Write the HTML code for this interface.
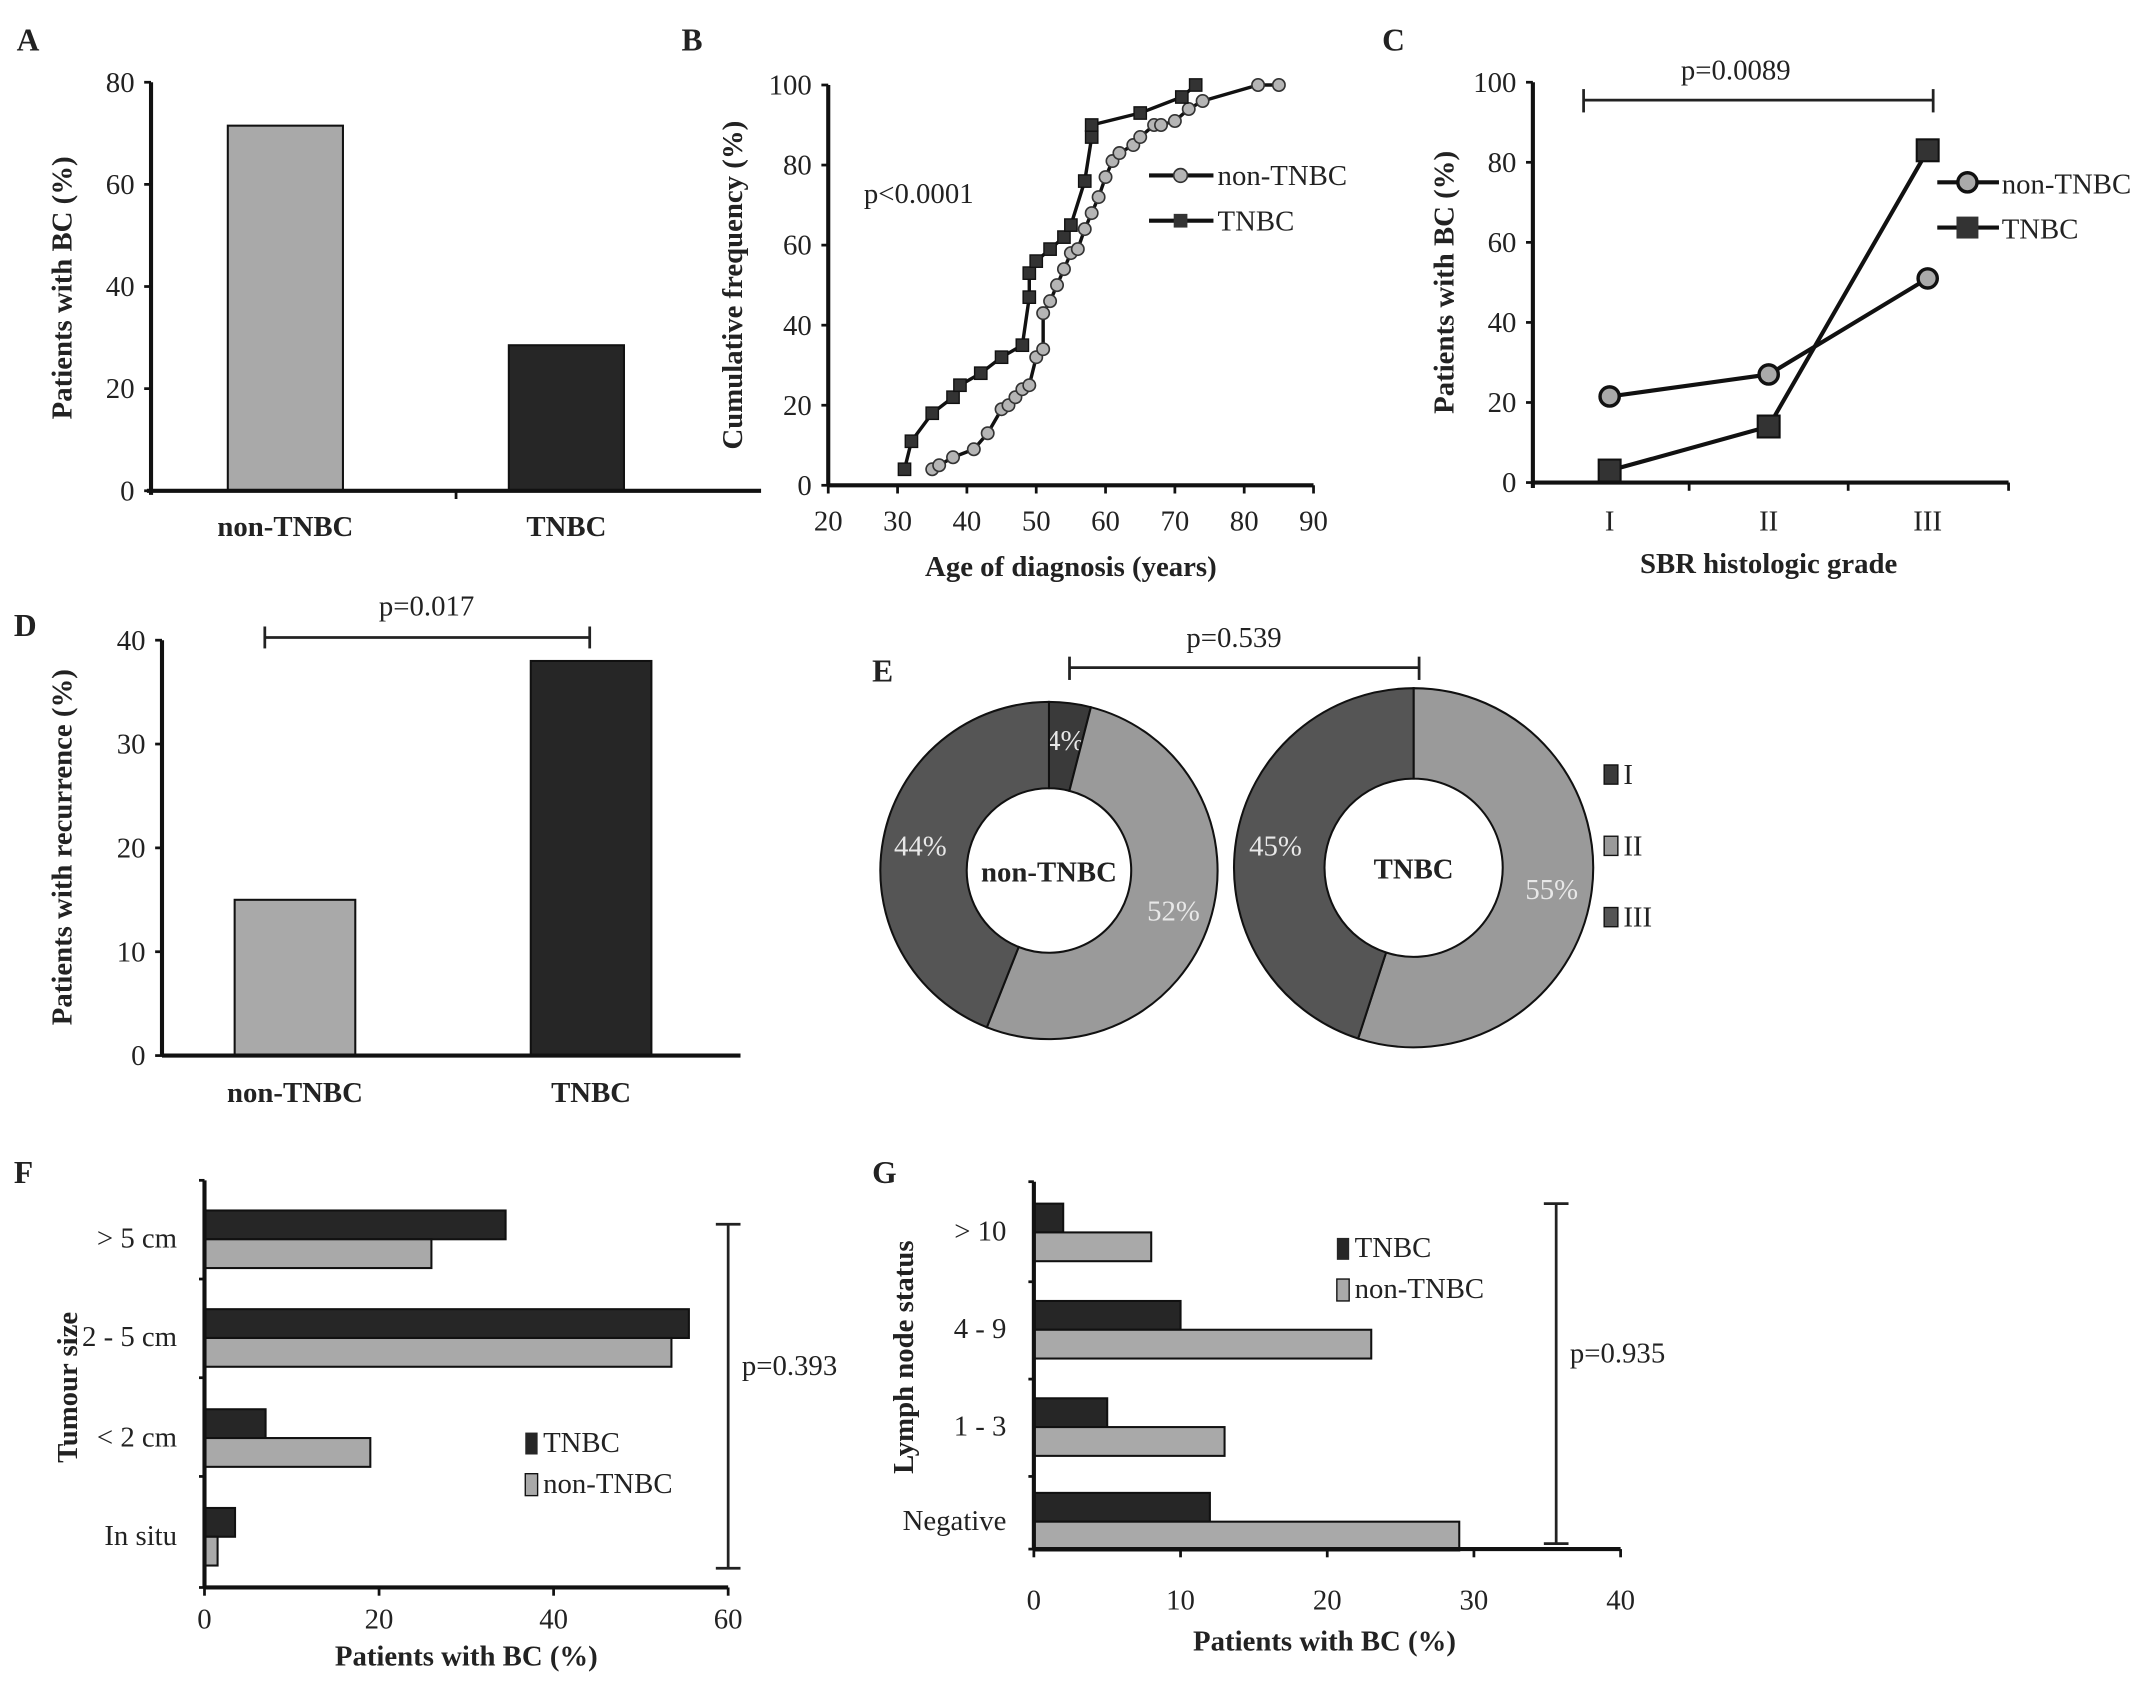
<!DOCTYPE html>
<html><head><meta charset="utf-8">
<style>
html,body{margin:0;padding:0;background:#fff;}
svg{display:block;}
text{font-family:"Liberation Serif",serif;fill:#222;}
.t{font-size:21px;}
.b{font-weight:bold;}
.pl{font-size:23px;font-weight:bold;}
</style></head>
<body>
<svg id="fig" width="2150" height="1704" viewBox="0 0 1568 1243" xmlns="http://www.w3.org/2000/svg">
<g id="root"></g>
</svg>
<script>
// ---- Panel A data
const aCats = ["non-TNBC", "TNBC"];
const aVals = [71.5, 28.5];
const aTicks = [0, 20, 40, 60, 80];
// ---- Panel B data
const bTnbcAge = [31,32,35,38,39,42,45,48,49,49,50,52,54,55,57,58,58,65,71,73];
const bTnbcPct = [4,11,18,22,25,28,32,35,47,53,56,59,62,65,76,87,90,93,97,100];
const bNonAge = [35,36,38,41,43,45,46,47,48,49,50,51,51,52,53,54,55,56,57,58,59,60,61,62,64,65,67,68,70,72,74,82,85];
const bNonPct = [4,5,7,9,13,19,20,22,24,25,32,34,43,46,50,54,58,59,64,68,72,77,81,83,85,87,90,90,91,94,96,100,100];
const bXTicks = [20,30,40,50,60,70,80,90];
const bYTicks = [0,20,40,60,80,100];
// ---- Panel C data
const cCats = ["I","II","III"];
const cNon = [21.5, 27, 51];
const cTnbc = [3, 14, 83];
const cTicks = [0,20,40,60,80,100];
// ---- Panel D data
const dCats = ["non-TNBC","TNBC"];
const dVals = [15, 38];
const dTicks = [0,10,20,30,40];
// ---- Panel E data
const eNon = [4, 52, 44];
const eTnbc = [0, 55, 45];
const eLegend = ["I","II","III"];
// ---- Panel F data
const fCats = ["> 5 cm","2 - 5 cm","< 2 cm","In situ"];
const fTnbc = [34.5, 55.5, 7, 3.5];
const fNon = [26, 53.5, 19, 1.5];
const fTicks = [0,20,40,60];
// ---- Panel G data
const gCats = ["> 10","4 - 9","1 - 3","Negative"];
const gTnbc = [2, 10, 5, 12];
const gNon = [8, 23, 13, 29];
const gTicks = [0,10,20,30,40];

const NS = "http://www.w3.org/2000/svg";
const root = document.getElementById("root");
function mk(tag, attrs, parent){
  const e = document.createElementNS(NS, tag);
  for (const k in attrs) e.setAttribute(k, attrs[k]);
  (parent||root).appendChild(e);
  return e;
}
function txt(x, y, s, cls, anchor, parent){
  const e = mk("text", {x:x, y:y, class:cls||"t", "text-anchor":anchor||"middle"}, parent);
  e.textContent = s;
  return e;
}
const DARK = "#262626", LIGHT = "#a9a9a9";

// ===== Panel letters
[["A",12,37],["B",497,37],["C",1008,37],["D",10,464],["E",636,497],["F",10,863],["G",636,863]].forEach(p=>{
  const e = txt(p[1], p[2], p[0], "pl", "start");
  
  
});

// ===== Panel A
(function(){
  const g = mk("g", {});
  
  
  const x0 = 110, y0 = 358, yTop = 60, xEnd = 555;
  const ys = v => y0 - (v/80)*(y0-yTop);
  aVals.forEach((v,i)=>{
    const cx = [208, 413][i];
    const r = mk("rect", {x:cx-42, y:ys(v), width:84, height:y0-ys(v), fill:i?DARK:LIGHT, stroke:"#111", "stroke-width":1.5}, g);
    
    
    const l = txt(cx, 391, aCats[i], "t b", "middle", g);
    
    
  });
  mk("line", {x1:x0, y1:yTop, x2:x0, y2:y0+3, stroke:"#111", "stroke-width":3}, g);
  mk("line", {x1:x0-3, y1:y0, x2:xEnd, y2:y0, stroke:"#111", "stroke-width":3}, g);
  mk("line", {x1:(x0+xEnd)/2, y1:y0, x2:(x0+xEnd)/2, y2:y0+6, stroke:"#111", "stroke-width":2}, g);
  aTicks.forEach(t=>{
    mk("line", {x1:x0-5, y1:ys(t), x2:x0, y2:ys(t), stroke:"#111", "stroke-width":2}, g);
    const l = txt(x0-12, ys(t)+7, String(t), "t", "end", g);
    
    
  });
  const yt = txt(0, 0, "Patients with BC (%)", "t b", "middle", g);
  yt.setAttribute("transform", "translate(52,210) rotate(-90)");
  
  
})();

// ===== Panel B
(function(){
  const g = mk("g", {});
  
  
  const x0 = 604, x1 = 958, y0 = 354, yTop = 62;
  const xs = v => x0 + (v-20)/70*(x1-x0);
  const ys = v => y0 - v/100*(y0-yTop);
  mk("line", {x1:x0, y1:yTop, x2:x0, y2:y0, stroke:"#111", "stroke-width":3}, g);
  mk("line", {x1:x0, y1:y0, x2:x1, y2:y0, stroke:"#111", "stroke-width":3}, g);
  bYTicks.forEach(t=>{
    mk("line", {x1:x0-5, y1:ys(t), x2:x0, y2:ys(t), stroke:"#111", "stroke-width":2}, g);
    const l = txt(x0-12, ys(t)+7, String(t), "t", "end", g);
    
    
  });
  bXTicks.forEach(t=>{
    mk("line", {x1:xs(t), y1:y0, x2:xs(t), y2:y0+6, stroke:"#111", "stroke-width":2}, g);
    const l = txt(xs(t), y0+33, String(t), "t", "middle", g);
    
    
  });
  const xt = txt(xs(55), 420, "Age of diagnosis (years)", "t b", "middle", g);
  
  
  const yt = txt(0, 0, "Cumulative frequency (%)", "t b", "middle", g);
  yt.setAttribute("transform", "translate(541,208) rotate(-90)");
  
  
  const pv = txt(630, 148, "p<0.0001", "t", "start", g);
  
  
  const pn = mk("polyline", {points:bNonAge.map((a,i)=>xs(a)+","+ys(bNonPct[i])).join(" "), fill:"none", stroke:"#111", "stroke-width":2.5, "stroke-linejoin":"round"}, g);
  
  
  const pt = mk("polyline", {points:bTnbcAge.map((a,i)=>xs(a)+","+ys(bTnbcPct[i])).join(" "), fill:"none", stroke:"#111", "stroke-width":2.5, "stroke-linejoin":"round"}, g);
  
  
  bNonAge.forEach((a,i)=>{
    const c = mk("circle", {cx:xs(a), cy:ys(bNonPct[i]), r:4.5, fill:"#b5b5b5", stroke:"#333", "stroke-width":1.2}, g);
    
    
  });
  bTnbcAge.forEach((a,i)=>{
    const c = mk("rect", {x:xs(a)-4.5, y:ys(bTnbcPct[i])-4.5, width:9, height:9, fill:"#333", stroke:"#111", "stroke-width":1}, g);
    
    
  });
  mk("line", {x1:838, y1:128, x2:885, y2:128, stroke:"#111", "stroke-width":3}, g);
  mk("circle", {cx:861, cy:128, r:5, fill:"#b5b5b5", stroke:"#333", "stroke-width":1.2}, g);
  const l1 = txt(888, 135, "non-TNBC", "t", "start", g);
  
  
  mk("line", {x1:838, y1:161, x2:885, y2:161, stroke:"#111", "stroke-width":3}, g);
  mk("rect", {x:856, y:156, width:10, height:10, fill:"#333"}, g);
  const l2 = txt(888, 168, "TNBC", "t", "start", g);
  
  
})();

// ===== Panel C
(function(){
  const g = mk("g", {});
  
  
  const x0 = 1118, xEnd = 1465, y0 = 352, yTop = 60;
  const ys = v => y0 - v/100*(y0-yTop);
  const xs = i => 1174 + i*116;
  mk("line", {x1:x0, y1:yTop, x2:x0, y2:y0+4, stroke:"#111", "stroke-width":3}, g);
  mk("line", {x1:x0, y1:y0, x2:xEnd, y2:y0, stroke:"#111", "stroke-width":3}, g);
  [1232, 1348, 1465].forEach(x=>mk("line", {x1:x, y1:y0, x2:x, y2:y0+6, stroke:"#111", "stroke-width":2}, g));
  cTicks.forEach(t=>{
    mk("line", {x1:x0-5, y1:ys(t), x2:x0, y2:ys(t), stroke:"#111", "stroke-width":2}, g);
    const l = txt(x0-12, ys(t)+7, String(t), "t", "end", g);
    
    
  });
  cCats.forEach((c,i)=>{
    const l = txt(xs(i), 387, c, "t", "middle", g);
    
    
  });
  const xt = txt(1290, 418, "SBR histologic grade", "t b", "middle", g);
  
  
  const yt = txt(0, 0, "Patients with BC (%)", "t b", "middle", g);
  yt.setAttribute("transform", "translate(1060,206) rotate(-90)");
  
  
  mk("line", {x1:1155, y1:73, x2:1410, y2:73, stroke:"#222", "stroke-width":2}, g);
  mk("line", {x1:1155, y1:65, x2:1155, y2:82, stroke:"#222", "stroke-width":2}, g);
  mk("line", {x1:1410, y1:65, x2:1410, y2:82, stroke:"#222", "stroke-width":2}, g);
  const pv = txt(1266, 58, "p=0.0089", "t", "middle", g);
  
  
  const ln = mk("polyline", {points:cNon.map((v,i)=>xs(i)+","+ys(v)).join(" "), fill:"none", stroke:"#111", "stroke-width":3}, g);
  
  
  const lt = mk("polyline", {points:cTnbc.map((v,i)=>xs(i)+","+ys(v)).join(" "), fill:"none", stroke:"#111", "stroke-width":3}, g);
  
  
  cNon.forEach((v,i)=>{
    const c = mk("circle", {cx:xs(i), cy:ys(v), r:7, fill:"#aaa", stroke:"#111", "stroke-width":2.5}, g);
    
    
  });
  cTnbc.forEach((v,i)=>{
    const c = mk("rect", {x:xs(i)-8, y:ys(v)-8, width:16, height:16, fill:"#333", stroke:"#111", "stroke-width":1.5}, g);
    
    
  });
  mk("line", {x1:1413, y1:133, x2:1458, y2:133, stroke:"#111", "stroke-width":3}, g);
  mk("circle", {cx:1435, cy:133, r:7, fill:"#aaa", stroke:"#111", "stroke-width":2.5}, g);
  const l1 = txt(1460, 141, "non-TNBC", "t", "start", g);
  
  
  mk("line", {x1:1413, y1:166, x2:1458, y2:166, stroke:"#111", "stroke-width":3}, g);
  mk("rect", {x:1427, y:158, width:16, height:16, fill:"#333"}, g);
  const l2 = txt(1460, 174, "TNBC", "t", "start", g);
  
  
})();

// ===== Panel D
(function(){
  const g = mk("g", {});
  
  
  const x0 = 118, xEnd = 540, y0 = 770, yTop = 467;
  const ys = v => y0 - v/40*(y0-yTop);
  dVals.forEach((v,i)=>{
    const cx = [215, 431][i];
    const r = mk("rect", {x:cx-44, y:ys(v), width:88, height:y0-ys(v), fill:i?DARK:LIGHT, stroke:"#111", "stroke-width":1.5}, g);
    
    
    const l = txt(cx, 804, dCats[i], "t b", "middle", g);
    
    
  });
  mk("line", {x1:x0, y1:yTop, x2:x0, y2:y0, stroke:"#111", "stroke-width":3}, g);
  mk("line", {x1:x0, y1:y0, x2:xEnd, y2:y0, stroke:"#111", "stroke-width":3}, g);
  dTicks.forEach(t=>{
    mk("line", {x1:x0-5, y1:ys(t), x2:x0, y2:ys(t), stroke:"#111", "stroke-width":2}, g);
    const l = txt(x0-12, ys(t)+7, String(t), "t", "end", g);
    
    
  });
  const yt = txt(0, 0, "Patients with recurrence (%)", "t b", "middle", g);
  yt.setAttribute("transform", "translate(52,618) rotate(-90)");
  
  
  mk("line", {x1:193, y1:465, x2:430, y2:465, stroke:"#222", "stroke-width":2}, g);
  mk("line", {x1:193, y1:457, x2:193, y2:473, stroke:"#222", "stroke-width":2}, g);
  mk("line", {x1:430, y1:457, x2:430, y2:473, stroke:"#222", "stroke-width":2}, g);
  const pv = txt(311, 449, "p=0.017", "t", "middle", g);
  
  
})();

// ===== Panel E (donuts)
(function(){
  const g = mk("g", {});
  
  
  const cols = ["#3a3a3a", "#9a9a9a", "#555555"];
  function donut(cx, cy, R, r, vals, label, key){
    let start = 0;
    const total = vals.reduce((a,b)=>a+b, 0);
    vals.forEach((v,i)=>{
      if (v <= 0) return;
      const a0 = start/total*2*Math.PI, a1 = (start+v)/total*2*Math.PI;
      start += v;
      const p = (rad, a) => [cx + rad*Math.sin(a), cy - rad*Math.cos(a)];
      const large = (a1-a0) > Math.PI ? 1 : 0;
      const [ox0,oy0] = p(R,a0), [ox1,oy1] = p(R,a1), [ix1,iy1] = p(r,a1), [ix0,iy0] = p(r,a0);
      const d = `M${ox0},${oy0} A${R},${R} 0 ${large} 1 ${ox1},${oy1} L${ix1},${iy1} A${r},${r} 0 ${large} 0 ${ix0},${iy0} Z`;
      const s = mk("path", {d:d, fill:cols[i], stroke:"#111", "stroke-width":1.5}, g);
      
      
      const am = (a0+a1)/2;
      const lr = (R + r)/2 + 4;
      const [lx, ly] = p(lr, am);
      const lt = txt(lx, ly+7, v + "%", "t", "middle", g);
      lt.setAttribute("style", "fill:#e8e8e8");
      
      
    });
    const c = txt(cx, cy+8, label, "t b", "middle", g);
    
    
  }
  donut(765, 635, 123, 60, eNon, "non-TNBC", "non-tnbc");
  donut(1031, 633, 131, 65, eTnbc, "TNBC", "tnbc");
  eLegend.forEach((s,i)=>{
    const y = 566 + i*52;
    mk("rect", {x:1170, y:y-8, width:10, height:14, fill:cols[i], stroke:"#111", "stroke-width":1}, g);
    const l = txt(1184, y+6, s, "t", "start", g);
    
    
  });
  mk("line", {x1:780, y1:487, x2:1035, y2:487, stroke:"#222", "stroke-width":2}, g);
  mk("line", {x1:780, y1:479, x2:780, y2:496, stroke:"#222", "stroke-width":2}, g);
  mk("line", {x1:1035, y1:479, x2:1035, y2:496, stroke:"#222", "stroke-width":2}, g);
  const pv = txt(900, 472, "p=0.539", "t", "middle", g);
  
  
})();

// ===== Horizontal bar panels F and G
function hbar(cfg){
  const g = mk("g", {});
  
  
  const {x0, x1, max, yTop, y0, centers, cats, tn, nn, ticks} = cfg;
  const xs = v => x0 + v/max*(x1-x0);
  const bh = 21;
  cats.forEach((c,i)=>{
    const cy = centers[i];
    const r1 = mk("rect", {x:x0, y:cy-bh, width:xs(tn[i])-x0, height:bh, fill:DARK, stroke:"#111", "stroke-width":1.5}, g);
    
    
    const r2 = mk("rect", {x:x0, y:cy, width:xs(nn[i])-x0, height:bh, fill:LIGHT, stroke:"#111", "stroke-width":1.5}, g);
    
    
    const l = txt(x0-20, cy+6, c, "t", "end", g);
    
    
  });
  mk("line", {x1:x0, y1:yTop, x2:x0, y2:y0, stroke:"#111", "stroke-width":3}, g);
  mk("line", {x1:x0, y1:y0, x2:x1, y2:y0, stroke:"#111", "stroke-width":3}, g);
  cfg.sep.forEach(y=>mk("line", {x1:x0-4, y1:y, x2:x0, y2:y, stroke:"#111", "stroke-width":2}, g));
  ticks.forEach(t=>{
    mk("line", {x1:xs(t), y1:y0, x2:xs(t), y2:y0+6, stroke:"#111", "stroke-width":2}, g);
    const l = txt(xs(t), y0+cfg.tickOff, String(t), "t", "middle", g);
    
    
  });
  const xt = txt(cfg.xtx, y0+cfg.titleOff, "Patients with BC (%)", "t b", "middle", g);
  
  
  const yt = txt(0, 0, cfg.ytitle, "t b", "middle", g);
  yt.setAttribute("transform", `translate(${cfg.ytx},${cfg.yty}) rotate(-90)`);
  
  
  const b = cfg.brk;
  mk("line", {x1:b.x, y1:b.y1, x2:b.x, y2:b.y2, stroke:"#222", "stroke-width":2}, g);
  mk("line", {x1:b.x-9, y1:b.y1, x2:b.x+9, y2:b.y1, stroke:"#222", "stroke-width":2}, g);
  mk("line", {x1:b.x-9, y1:b.y2, x2:b.x+9, y2:b.y2, stroke:"#222", "stroke-width":2}, g);
  const pv = txt(b.x+10, b.py, b.p, "t", "start", g);
  
  
  const L = cfg.leg;
  mk("rect", {x:L.x, y:L.y-14, width:9, height:16, fill:DARK}, g);
  const l1 = txt(L.x+13, L.y, "TNBC", "t", "start", g);
  
  
  mk("rect", {x:L.x, y:L.y+16, width:9, height:16, fill:LIGHT, stroke:"#111", "stroke-width":1}, g);
  const l2 = txt(L.x+13, L.y+30, "non-TNBC", "t", "start", g);
  
  
}
hbar({key:"panel-f", x0:149, x1:531, max:60, yTop:861, y0:1158, centers:[904,976,1049,1121], sep:[861,933,1005,1077,1158],
  cats:fCats, tn:fTnbc, nn:fNon, ticks:fTicks, xtx:340, tickOff:30, titleOff:57, ytitle:"Tumour size", ytx:56, yty:1012,
  brk:{x:531, y1:893, y2:1144, py:1003, p:"p=0.393"}, leg:{x:383, y:1059}});
hbar({key:"panel-g", x0:754, x1:1182, max:40, yTop:862, y0:1130, centers:[899,970,1041,1110], sep:[862,935,1006,1077,1130],
  cats:gCats, tn:gTnbc, nn:gNon, ticks:gTicks, xtx:966, tickOff:44, titleOff:74, ytitle:"Lymph node status", ytx:666, yty:990,
  brk:{x:1135, y1:878, y2:1126, py:994, p:"p=0.935"}, leg:{x:975, y:917}});
</script>
</body></html>
